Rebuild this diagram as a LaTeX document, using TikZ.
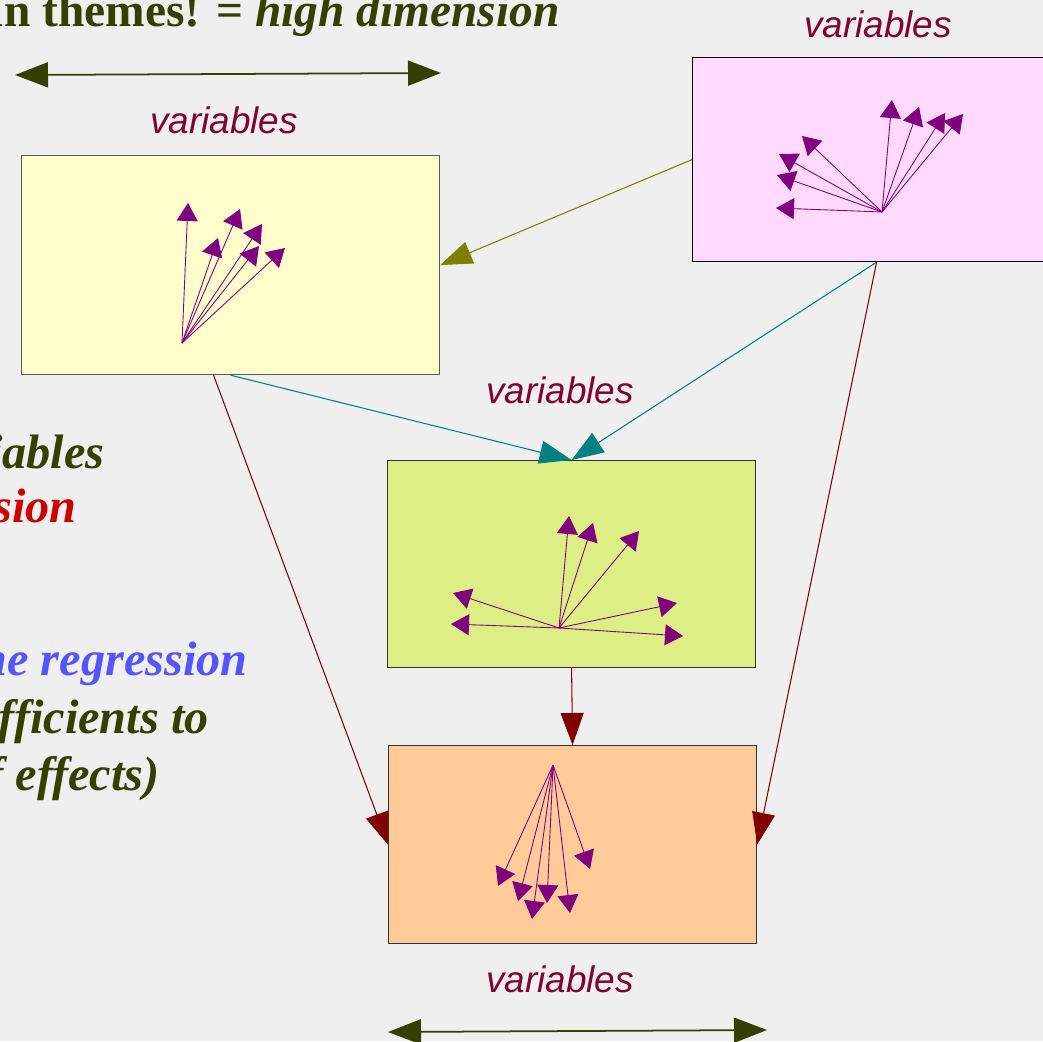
\documentclass[tikz,border=0pt]{standalone}
\usepackage{fontspec}
\setmainfont{Liberation Serif}
\setsansfont{Liberation Sans}
\usetikzlibrary{arrows.meta,calc}

\definecolor{latar}{HTML}{EFEFEF}
\definecolor{zaitun}{HTML}{334000}
\definecolor{merahtua}{HTML}{800033}
\definecolor{merahteks}{HTML}{CC0000}
\definecolor{biruteks}{HTML}{5555FF}
\definecolor{kuning}{HTML}{FFFFCC}
\definecolor{merahmuda}{HTML}{FFD9FE}
\definecolor{hijau}{HTML}{DDEE84}
\definecolor{jingga}{HTML}{FFCC99}
\definecolor{ungu}{HTML}{800080}
\definecolor{olive}{HTML}{808000}
\definecolor{teal}{HTML}{008080}
\definecolor{marun}{HTML}{800000}

\begin{document}
\begin{tikzpicture}[x=0.02cm,y=-0.02cm,
  kotak/.style={draw=#1, line width=0.7pt, anchor=north west, inner sep=0pt},
  label var/.style={font=\sffamily\itshape\fontsize{21}{25}\selectfont, text=merahtua},
  teks/.style={font=\bfseries\itshape\fontsize{27.5}{32}\selectfont, anchor=base east, inner sep=0pt},
  vektor/.style={draw=ungu, line width=0.5pt, -{Triangle[length=0.36cm,width=0.42cm]}},
  hubung/.style={draw=#1, line width=0.6pt, -{Triangle[length=0.64cm,width=0.46cm]}},
  ukuran/.style={draw=zaitun, line width=1pt, {Triangle[length=0.66cm,width=0.5cm]}-{Triangle[length=0.66cm,width=0.5cm]}}]

% Latar belakang dan batas gambar
\useasboundingbox (0,0) rectangle (1043,1041);
\fill[latar] (0,0) rectangle (1043,1041);
\clip (0,0) rectangle (1043,1041);

% Judul yang terpotong di kiri atas
\node[anchor=base east, inner sep=0pt, text=zaitun, font=\bfseries\fontsize{27}{32}\selectfont] (judul) at (560,27) {un themes! = \textit{high dimension}};

% Teks di sisi kiri
\node[teks, text=zaitun] (t1) at (105,468) {iables};
\node[teks, text=merahteks] (t2) at (77,522) {sion};
\node[teks, text=biruteks] (t3) at (248,675) {he regression};
\node[teks, text=zaitun] (t4) at (209,733) {fficients to};
\node[teks, text=zaitun] (t5) at (160,790) {f effects)};

% Kotak-kotak
\node[kotak={black!65}, fill=kuning, minimum width=8.36cm, minimum height=4.38cm] (kuningbox) at (21,155) {};
\node[kotak=black, fill=merahmuda, minimum width=7.36cm, minimum height=4.08cm] (pinkbox) at (692,57) {};
\node[kotak={black!80}, fill=hijau, minimum width=7.36cm, minimum height=4.14cm] (hijaubox) at (387,460) {};
\node[kotak={black!80}, fill=jingga, minimum width=7.36cm, minimum height=3.96cm] (jinggabox) at (388,745) {};

% Label variables
\node[label var] (v1) at (224,120) {variables};
\node[label var] (v2) at (878,24) {variables};
\node[label var] (v3) at (560,390) {variables};
\node[label var] (v4) at (560,979) {variables};

% Panah ukuran
\coordinate (a1) at (15,75);
\coordinate (a2) at (441,73);
\draw[ukuran] (a1) -- (a2);
\coordinate (b1) at (388,1032);
\coordinate (b2) at (767,1030);
\draw[ukuran] (b1) -- (b2);

% Vektor di tiap kotak
\coordinate (oy) at (182,343);
\foreach \ujung in {(188,203),(218,238),(240,209),(262,224),(259,246),(285,248)}
  \draw[vektor] (oy) -- \ujung;
\coordinate (op) at (882,212);
\foreach \ujung in {(892,100),(919,107),(945,113),(963,114),(802,136),(779,154),(777,175),(776,208)}
  \draw[vektor] (op) -- \ujung;
\coordinate (oh) at (559,628);
\foreach \ujung in {(569,516),(593,523),(639,531),(453,593),(451,624),(677,603),(683,636)}
  \draw[vektor] (oh) -- \ujung;
\coordinate (oj) at (553,765);
\foreach \ujung in {(498,886),(518,901),(532,919),(547,903),(570,913),(590,869)}
  \draw[vektor] (oj) -- \ujung;

% Panah antar kotak
\draw[hubung=olive] (pinkbox.west) -- (kuningbox.east);
\draw[hubung=teal] (kuningbox.south) -- (hijaubox.north);
\draw[hubung=teal] (pinkbox.south) -- (hijaubox.north);
\draw[hubung=marun] ($(kuningbox.south)+(-17,0)$) -- (jinggabox.west);
\draw[hubung=marun] (pinkbox.south) -- (jinggabox.east);
\draw[hubung=marun] (hijaubox.south) -- (jinggabox.north);

\end{tikzpicture}
\end{document}
